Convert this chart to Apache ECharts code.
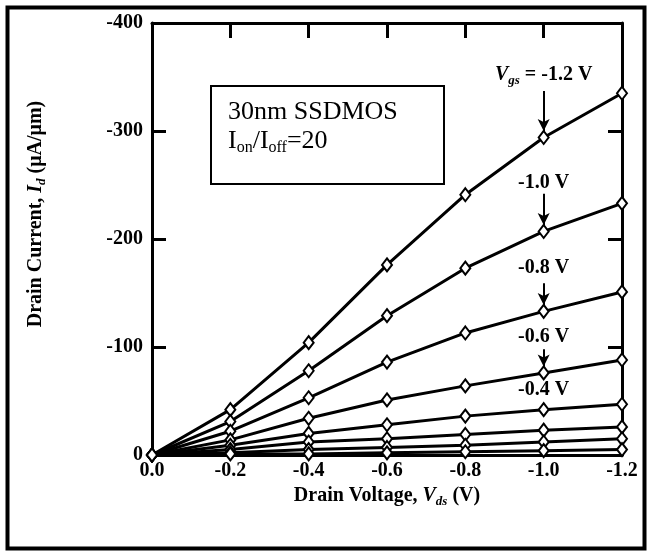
<!DOCTYPE html>
<html>
<head>
<meta charset="utf-8">
<script src="https://cdn.jsdelivr.net/npm/echarts@6/dist/echarts.min.js"></script>
<style>
html,body{margin:0;padding:0;background:#fff;}
#chart{width:648px;height:554px;}
</style>
</head>
<body>
<div id="chart"></div>
<script>
// Drain voltage categories (V)
const vds = [0, -0.2, -0.4, -0.6, -0.8, -1.0, -1.2];
// Drain current (uA/um) for each gate voltage curve
const idVgs12 = [0, -42, -104, -176, -241, -294, -335];
const idVgs10 = [0, -31, -78, -129, -173, -207, -233];
const idVgs08 = [0, -22, -53, -86, -113, -133, -151];
const idVgs06 = [0, -14, -34, -51, -64, -76, -88];
const idVgs04 = [0, -9, -20, -28, -36, -42, -47];
const idVgs03 = [0, -5, -12, -15, -19, -23, -26];
const idVgs02 = [0, -2, -5, -7, -9, -12, -15];
const idVgs01 = [0, -1, -1, -2, -3, -4, -5];
const curveNames = ['-1.2 V', '-1.0 V', '-0.8 V', '-0.6 V', '-0.4 V', '-0.3 V', '-0.2 V', '-0.1 V'];
const curves = [idVgs12, idVgs10, idVgs08, idVgs06, idVgs04, idVgs03, idVgs02, idVgs01];
// Tick values
const xTicks = [0, -0.2, -0.4, -0.6, -0.8, -1.0, -1.2];
const yTicks = [0, -100, -200, -300, -400];
// Annotations: label text, arrow start/end (data space) at Vds = -1.0
const annotations = [
  {text: '{it|V}{sub|gs}{b| = -1.2 V}', at: -1.0, labelY: -352, from: -337, to: -300},
  {text: '{b|-1.0 V}', at: -1.0, labelY: -252, from: -242, to: -213},
  {text: '{b|-0.8 V}', at: -1.0, labelY: -173, from: -159, to: -139},
  {text: '{b|-0.6 V}', at: -1.0, labelY: -109, from: -98, to: -82},
  {text: '{b|-0.4 V}', at: -1.0, labelY: -60, from: null, to: null}
];

const serif = 'Liberation Serif';
const chart = echarts.init(document.getElementById('chart'));

function richSet(size, subSize) {
  return {
    b: {fontFamily: serif, fontWeight: 'bold', fontSize: size, color: '#000', lineHeight: size + 4},
    it: {fontFamily: serif, fontWeight: 'bold', fontStyle: 'italic', fontSize: size, color: '#000', lineHeight: size + 4},
    sub: {fontFamily: serif, fontWeight: 'bold', fontStyle: 'italic', fontSize: subSize, color: '#000', verticalAlign: 'bottom', lineHeight: subSize}
  };
}

const series = curves.map((vals, i) => ({
  name: curveNames[i],
  type: 'line',
  data: vds.map((x, j) => [x, vals[j]]),
  symbol: 'diamond',
  symbolSize: [10, 13],
  showSymbol: true,
  lineStyle: {color: '#000', width: 3},
  itemStyle: {color: '#fff', borderColor: '#000', borderWidth: 2},
  z: 3 + i,
  silent: true
}));

// attach annotations to the first series
series[0].markPoint = {
  symbol: 'rect', symbolSize: 1,
  itemStyle: {color: 'rgba(0,0,0,0)'},
  silent: true,
  data: annotations.map(a => ({
    coord: [a.at, a.labelY],
    label: {show: true, position: 'inside', formatter: a.text, rich: richSet(20, 13)}
  }))
};
series[0].markLine = {
  silent: true,
  symbol: ['none', 'arrow'],
  symbolSize: [9, 12],
  lineStyle: {color: '#000', width: 2, type: 'solid'},
  label: {show: false},
  data: annotations.filter(a => a.from !== null).map(a => [
    {coord: [a.at, a.from]},
    {coord: [a.at, a.to]}
  ])
};

const axisLbl = {fontFamily: serif, fontWeight: 'bold', fontSize: 20, color: '#000'};
const frameLine = {show: true, onZero: false, lineStyle: {color: '#000', width: 3}};
const innerTick = {show: true, inside: true, length: 14, lineStyle: {color: '#000', width: 3}};

const option = {
  animation: false,
  backgroundColor: '#fff',
  grid: {left: 152, right: 26, top: 23, bottom: 99},
  xAxis: [
    {
      type: 'value', min: -1.2, max: 0, interval: 0.2, inverse: true,
      position: 'bottom',
      axisLine: frameLine,
      axisTick: innerTick,
      splitLine: {show: false},
      axisLabel: {...axisLbl, margin: 6, formatter: v => (Math.abs(v) < 1e-9 ? '0.0' : v.toFixed(1))},
      name: '{b|Drain Voltage, }{it|V}{sub|ds}{b| (V)}',
      nameLocation: 'middle', nameGap: 28,
      nameTextStyle: {rich: richSet(20, 13)}
    },
    {
      type: 'value', min: -1.2, max: 0, interval: 0.2, inverse: true,
      position: 'top',
      axisLine: frameLine,
      axisTick: {...innerTick, length: 15},
      axisLabel: {show: false}, splitLine: {show: false}
    }
  ],
  yAxis: [
    {
      type: 'value', min: -400, max: 0, interval: 100, inverse: true,
      position: 'left',
      axisLine: frameLine,
      axisTick: innerTick,
      splitLine: {show: false},
      axisLabel: {...axisLbl, margin: 9, formatter: v => (v === 0 ? '0' : String(v))},
      name: '{b|Drain Current, }{it|I}{sub|d}{b| (μA/μm)}',
      nameLocation: 'middle', nameGap: 104,
      nameTextStyle: {padding: [0, 0, 0, 50], rich: richSet(20, 13)}
    },
    {
      type: 'value', min: -400, max: 0, interval: 100, inverse: true,
      position: 'right',
      axisLine: frameLine,
      axisTick: innerTick,
      axisLabel: {show: false}, splitLine: {show: false}
    }
  ],
  graphic: [
    {type: 'rect', left: 5, top: 5, shape: {width: 637, height: 541}, style: {fill: 'none', stroke: '#000', lineWidth: 4}, silent: true},
    {type: 'rect', left: 210, top: 85, shape: {width: 233, height: 98}, style: {fill: '#fff', stroke: '#000', lineWidth: 2}, z: 10, silent: true},
    {type: 'text', left: 228, top: 99, z: 11, style: {text: '30nm SSDMOS', font: '26px "Liberation Serif"', fill: '#000'}},
    {type: 'text', left: 228, top: 128, z: 11, style: {
      text: '{n|I}{s|on}{n|/I}{s|off}{n|=20}',
      rich: {
        n: {fontFamily: serif, fontSize: 26, color: '#000', lineHeight: 30},
        s: {fontFamily: serif, fontSize: 16, color: '#000', verticalAlign: 'bottom', lineHeight: 16}
      }
    }}
  ],
  series: series
};
chart.setOption(option);
</script>
</body>
</html>
